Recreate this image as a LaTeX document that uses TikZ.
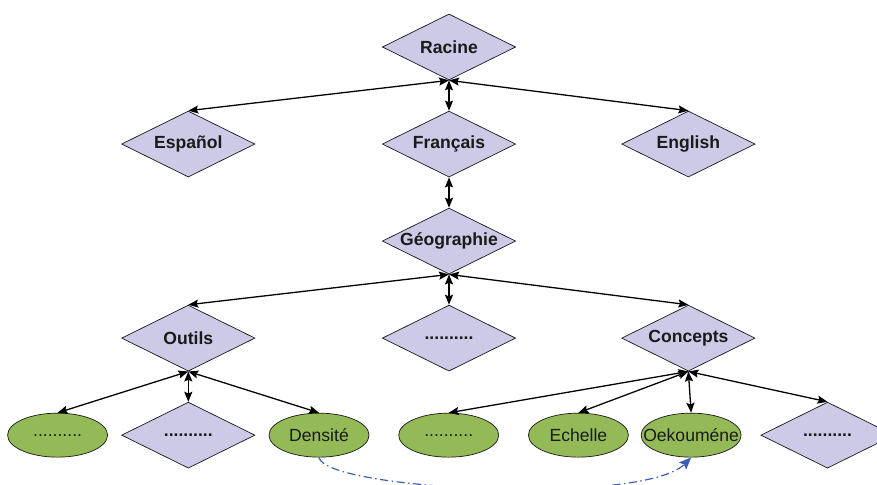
\documentclass[tikz,border=0pt]{standalone}
\usepackage{fontspec}
\setmainfont{Liberation Sans}
\usetikzlibrary{arrows.meta, positioning, shapes.geometric}
\definecolor{GRlav}{HTML}{CCCAE6}
\definecolor{GRgreen}{HTML}{93BA57}
\definecolor{GRblue}{HTML}{3A5EB2}
\definecolor{GRink}{HTML}{1A1A1A}
\tikzset{
  grdiam/.style={
    diamond, aspect=2, draw=GRink, line width=0.6pt, fill=GRlav, text=GRink,
    inner sep=0pt, minimum width=4cm, minimum height=1.98cm,
    font=\fontsize{15}{18}\selectfont\bfseries},
  groval/.style={
    ellipse, draw=GRink, line width=0.6pt, fill=GRgreen, text=GRink,
    inner xsep=-0.4cm, inner ysep=0pt, minimum width=3cm, minimum height=1.32cm},
  grarr/.style={{Stealth[length=3mm,width=2.4mm,inset=0.5mm]}-{Stealth[length=3mm,width=2.4mm,inset=0.5mm]},
    line width=1.1pt, draw=black},
  grlink/.style={-{Stealth[length=3.6mm,width=3mm,inset=0.6mm]}, line width=1pt, draw=GRblue,
    dash pattern=on 7pt off 3pt on 1.2pt off 3pt},
}
\begin{document}
\begin{tikzpicture}[node distance=0.91cm and 3.8cm, font=\fontsize{15}{18}\selectfont]
  \useasboundingbox (0,0) rectangle (26.31,-14.52);
  % arbre des rubriques
  \node[grdiam] (racine) at (13.47,-1.41) {Racine};
  \node[grdiam, below=of racine] (fr) {Français};
  \node[grdiam, left=of fr] (es) {Español};
  \node[grdiam, right=3.16cm of fr] (en) {English};
  \node[grdiam, below=of fr] (geo) {Géographie};
  \node[grdiam, below=of geo] (geomid) {..........};
  \node[grdiam, left=of geomid] (outils) {Outils};
  \node[grdiam, right=3.16cm of geomid] (concepts) {Concepts};
  % feuilles
  \node[grdiam, below=of outils] (outmid) {..........};
  \node[groval, left=0.4cm of outmid] (outleft) {..........};
  \node[groval, right=0.4cm of outmid] (densite) {Densité};
  \node[groval, right=0.87cm of densite] (conleft) {..........};
  \node[groval, right=0.87cm of conleft] (echelle) {Echelle};
  \node[groval, right=0.36cm of echelle] (oek) {Oekouméne};
  \node[grdiam, right=0.57cm of oek] (conright) {..........};
  \draw[grarr](racine.south)--(es.north);\draw[grarr](racine.south)--(fr.north);\draw[grarr](racine.south)--(en.north);
  \draw[grarr](fr.south)--(geo.north);
  \draw[grarr](geo.south)--(outils.north);\draw[grarr](geo.south)--(geomid.north);\draw[grarr](geo.south)--(concepts.north);
  \draw[grarr](outils.south)--(outleft.north);\draw[grarr](outils.south)--(outmid.north);\draw[grarr](outils.south)--(densite.north);
  \draw[grarr](concepts.south)--(conleft.north);\draw[grarr](concepts.south)--(echelle.north);
  \draw[grarr](concepts.south)--(oek.north);\draw[grarr](concepts.south)--(conright.north);
  \draw[grlink](densite.south) .. controls +(0.21,-0.99) and +(-1.44,-1.44) .. (oek.south);
\end{tikzpicture}
\end{document}
